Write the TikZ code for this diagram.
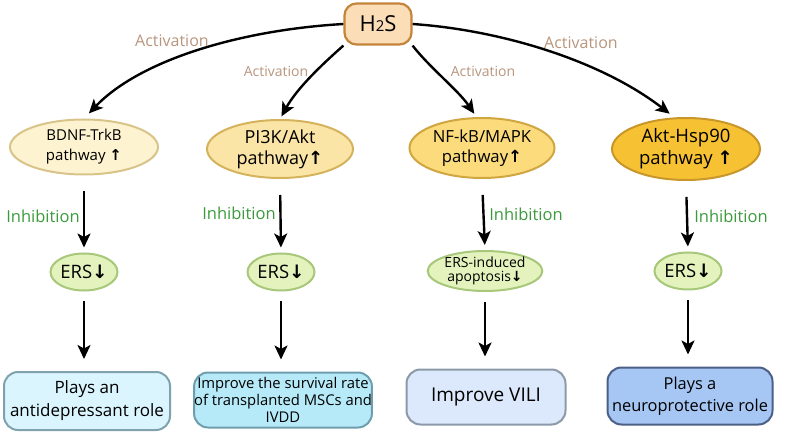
\documentclass[tikz,border=0pt]{standalone}
\usepackage{fontspec}
\setmainfont{Open Sans}
\newfontfamily\symfont{DejaVu Sans}
\usetikzlibrary{arrows.meta,shapes.geometric}
\definecolor{hsfill}{HTML}{FBDDB8}
\definecolor{hsline}{HTML}{C4843A}
\definecolor{ersfill}{HTML}{E4F3BD}
\definecolor{ersline}{HTML}{A7C77A}
\definecolor{actcol}{HTML}{B8957C}
\definecolor{inhcol}{HTML}{3C9A3C}
\newcommand\uparr{{\symfont\bfseries ↑}}
\newcommand\dnarr{{\symfont\bfseries ↓}}
\tikzset{
	pathway/.style={ellipse, draw, line width=2pt, align=center, inner sep=0pt},
	ersnode/.style={ellipse, draw=ersline, fill=ersfill, line width=2pt, inner sep=0pt, align=center},
	result/.style={rectangle, rounded corners=14pt, draw, line width=2pt, align=center, inner sep=0pt},
	arr/.style={-{Stealth[length=14pt,width=13pt,inset=3.5pt]}, line width=2.4pt},
	actlabel/.style={text=actcol},
	inhlabel/.style={text=inhcol, font=\fontsize{16.5}{18}\selectfont}
}

\begin{document}
\begin{tikzpicture}[x=1pt,y=-1pt]
			%%%%% START %%%%%
			\useasboundingbox (0,0) rectangle (787,438);
			
			\node[rectangle, rounded corners=12pt, draw=hsline, fill=hsfill, line width=2.2pt,
				minimum width=67pt, minimum height=41pt, font=\fontsize{22}{22}\selectfont] (h2s) at (378,24) {H{\fontsize{15}{15}\selectfont 2}S};
			
			% pathways
			\node[pathway, draw={rgb,255:red,216;green,196;blue,136}, fill={rgb,255:red,253;green,243;blue,208}, minimum width=148pt, minimum height=55pt,
				font=\fontsize{15}{20}\selectfont] (p1) at (84,147) {BDNF-TrkB\\pathway \uparr};
			\node[pathway, draw={rgb,255:red,212;green,179;blue,92}, fill={rgb,255:red,251;green,229;blue,166}, minimum width=146pt, minimum height=58pt,
				font=\fontsize{18}{21}\selectfont] (p2) at (280,149) {PI3K/Akt\\pathway\uparr};
			\node[pathway, draw={rgb,255:red,208;green,166;blue,64}, fill={rgb,255:red,251;green,219;blue,124}, minimum width=145pt, minimum height=60pt,
				font=\fontsize{16.7}{20}\selectfont] (p3) at (482,148) {NF-kB/MAPK\\pathway\uparr};
			\node[pathway, draw={rgb,255:red,201;green,150;blue,42}, fill={rgb,255:red,246;green,193;blue,51}, minimum width=148pt, minimum height=62pt,
				font=\fontsize{18.5}{22}\selectfont] (p4) at (686,149) {Akt-Hsp90\\pathway \uparr};
			
			% ERS
			\node[ersnode, minimum width=65pt, minimum height=37pt, font=\fontsize{18.5}{18}\selectfont] (e1) at (84,272) {ERS\dnarr};
			\node[ersnode, minimum width=64pt, minimum height=37pt, font=\fontsize{18.5}{18}\selectfont] (e2) at (281,272) {ERS\dnarr};
			\node[ersnode, minimum width=106pt, minimum height=40pt, font=\fontsize{14}{14}\selectfont] (e3) at (485,271) {ERS-induced\\apoptosis\dnarr};
			\node[ersnode, minimum width=65pt, minimum height=37pt, font=\fontsize{18.5}{18}\selectfont] (e4) at (688,271) {ERS\dnarr};
			
			% results
			\node[result, draw={rgb,255:red,127;green,162;blue,174}, fill={rgb,255:red,218;green,245;blue,253}, minimum width=166pt, minimum height=58pt,
				font=\fontsize{17}{23}\selectfont] (b1) at (87,401) {Plays an\\antidepressant role};
			\node[result, draw={rgb,255:red,110;green,158;blue,174}, fill={rgb,255:red,183;green,234;blue,248}, minimum width=177pt, minimum height=55pt,
				font=\fontsize{14.8}{17}\selectfont] (b2) at (283,400) {Improve the survival rate\\of transplanted MSCs and\\IVDD};
			\node[result, draw={rgb,255:red,139;green,153;blue,168}, fill={rgb,255:red,220;green,232;blue,251}, minimum width=159pt, minimum height=55pt,
				font=\fontsize{19}{20}\selectfont] (b3) at (486,397) {Improve VILI};
			\node[result, draw={rgb,255:red,76;green,95;blue,134}, fill={rgb,255:red,166;green,198;blue,244}, minimum width=165pt, minimum height=57pt,
				font=\fontsize{16.4}{22}\selectfont] (b4) at (690,396) {Plays a\\neuroprotective role};
			
			% activation
			\draw[arr, shorten >=7pt] (h2s.west) .. controls (240,30) and (140,60) .. (p1.north);
			\draw[arr, shorten >=3pt] (h2s.south west) .. controls (318,68) and (296,90) .. (p2.north);
			\draw[arr, shorten >=4pt] (h2s.south east) .. controls (430,68) and (458,90) .. (p3.100);
			\draw[arr, shorten >=6pt] (h2s.east) .. controls (500,30) and (600,60) .. (p4.110);
			
			\node[actlabel, font=\fontsize{16}{16}\selectfont] (a1) at (172,41) {Activation};
			\node[actlabel, font=\fontsize{14}{14}\selectfont] (a2) at (276,71) {Activation};
			\node[actlabel, font=\fontsize{14}{14}\selectfont] (a3) at (483,71) {Activation};
			\node[actlabel, font=\fontsize{16}{16}\selectfont] (a4) at (581,43) {Activation};
			
			% inhibition
			\foreach \i in {1,...,4}{
				\draw[arr, shorten <=16pt, shorten >=5pt] (p\i.south) -- (e\i.north);
				\draw[arr, shorten <=10pt, shorten >=12pt] (e\i.south) -- (b\i.north -| e\i.south);
			}
			\node[inhlabel] (i1) at (43,216) {Inhibition};
			\node[inhlabel] (i2) at (239,213) {Inhibition};
			\node[inhlabel] (i3) at (526,214) {Inhibition};
			\node[inhlabel] (i4) at (731,216) {Inhibition};
			
			%%%%% END %%%%%
\end{tikzpicture}
\end{document}
